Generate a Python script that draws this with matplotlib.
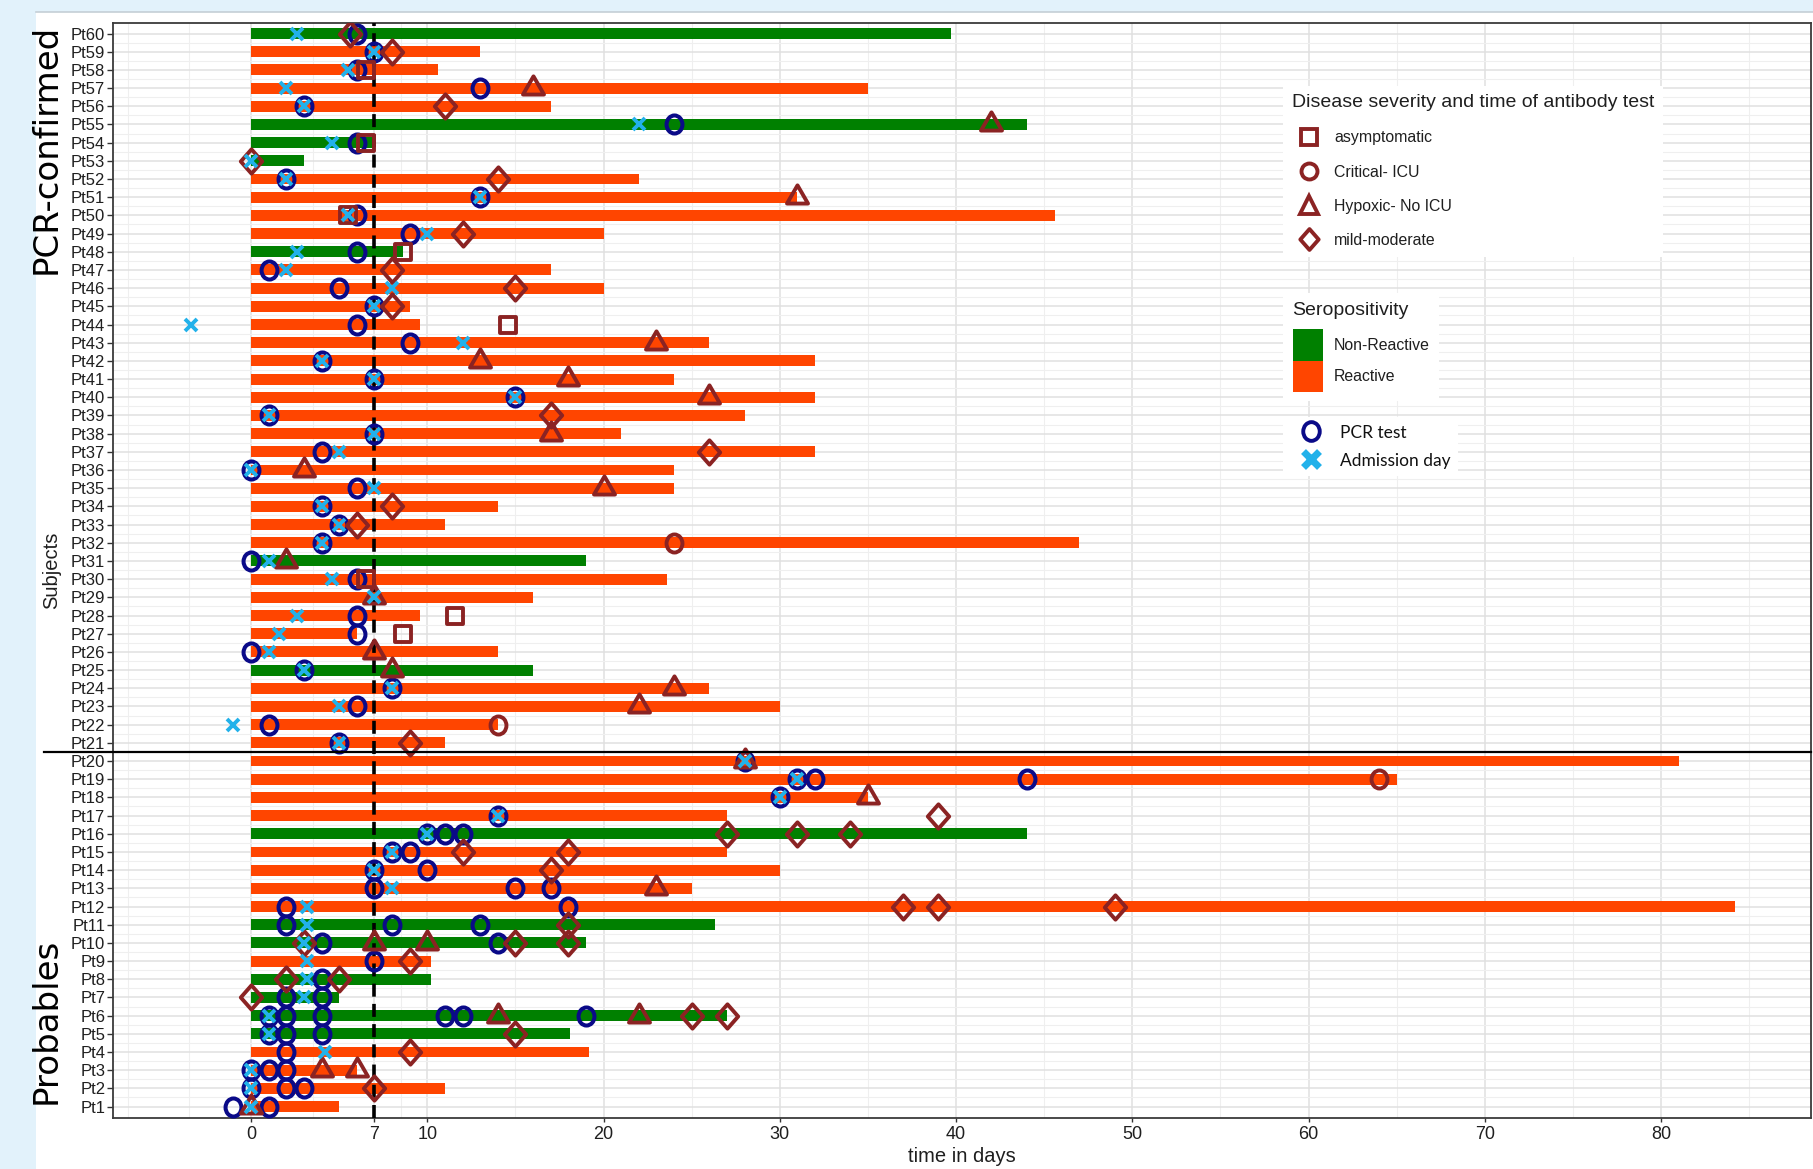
import matplotlib
matplotlib.use("Agg")
import matplotlib.pyplot as plt
from matplotlib.path import Path
from matplotlib.transforms import Affine2D, blended_transform_factory
from matplotlib.lines import Line2D
from matplotlib.patches import Patch, Rectangle

plt.rcParams["font.family"] = ["Liberation Sans", "DejaVu Sans"]

# ---------------------------------------------------------------- data
subjects = ["Pt1", "Pt2", "Pt3", "Pt4", "Pt5", "Pt6", "Pt7", "Pt8", "Pt9", "Pt10",
            "Pt11", "Pt12", "Pt13", "Pt14", "Pt15", "Pt16", "Pt17", "Pt18", "Pt19", "Pt20",
            "Pt21", "Pt22", "Pt23", "Pt24", "Pt25", "Pt26", "Pt27", "Pt28", "Pt29", "Pt30",
            "Pt31", "Pt32", "Pt33", "Pt34", "Pt35", "Pt36", "Pt37", "Pt38", "Pt39", "Pt40",
            "Pt41", "Pt42", "Pt43", "Pt44", "Pt45", "Pt46", "Pt47", "Pt48", "Pt49", "Pt50",
            "Pt51", "Pt52", "Pt53", "Pt54", "Pt55", "Pt56", "Pt57", "Pt58", "Pt59", "Pt60"]

n_probable = 20          # Pt1..Pt20 are probables, Pt21..Pt60 PCR-confirmed
reference_day = 7

# follow-up length (days), Pt1 ... Pt60
end_day = [5, 11, 6, 19.2, 18.1, 27, 5, 10.2, 10.2, 19,
           26.3, 84.2, 25, 30, 27, 44, 27, 35, 65, 81,
           11, 14, 30, 26, 16, 14, 6, 9.6, 16, 23.6,
           19, 47, 11, 14, 24, 24, 32, 21, 28, 32,
           24, 32, 26, 9.6, 9, 20, 17, 8.6, 20, 45.6,
           31, 22, 3, 7, 44, 17, 35, 10.6, 13, 39.7]

# N = Non-Reactive, R = Reactive
seropositivity = ["R", "R", "R", "R", "N", "N", "N", "N", "R", "N",
                  "N", "R", "R", "R", "R", "N", "R", "R", "R", "R",
                  "R", "R", "R", "R", "N", "R", "R", "R", "R", "R",
                  "N", "R", "R", "R", "R", "R", "R", "R", "R", "R",
                  "R", "R", "R", "R", "R", "R", "R", "N", "R", "R",
                  "R", "R", "N", "N", "N", "R", "R", "R", "R", "N"]

admission_day = [0, 0, 0, 4.2, 1, 1, 3, 3.2, 3.2, 3,
                 3.2, 3.2, 8, 7, 8, 10, 14, 30, 31, 28,
                 5, -1, 5, 8, 3, 1, 1.6, 2.6, 7, 4.6,
                 1, 4, 5, 4, 7, 0, 5, 7, 1, 15,
                 7, 4, 12, -3.4, 7, 8, 2, 2.6, 10, 5.5,
                 13, 2, 0, 4.6, 22, 3, 2, 5.5, 7, 2.6]

pcr_days = [[-1, 1], [0, 2, 3], [0, 1, 2], [2], [1, 2, 4],
            [1, 2, 4, 11, 12, 19], [2, 4], [4], [7], [4, 14],
            [2, 8, 13], [2, 18], [7, 15, 17], [7, 10], [8, 9],
            [10, 11, 12], [14], [30], [31, 32, 44], [28],
            [5], [1], [6], [8], [3], [0], [6], [6], [], [6],
            [0], [4], [5], [4], [6], [0], [4], [7], [1], [15],
            [7], [4], [9], [6], [7], [5], [1], [6], [9], [6],
            [13], [2], [], [6], [24], [3], [13], [6], [7], [6]]

# antibody test days and disease severity at each test
# A = asymptomatic, C = Critical- ICU, H = Hypoxic- No ICU, M = mild-moderate
ab_days = [[0], [7], [4, 6], [9], [15], [14, 22, 25, 27], [0], [2, 5], [9], [3, 7, 10, 15, 18],
           [18], [37, 39, 49], [23], [17], [12, 18], [27, 31, 34], [39], [35], [64], [28],
           [9], [14], [22], [24], [8], [7], [8.6], [11.6], [7], [6.5],
           [2], [24], [6], [8], [20], [3], [26], [17], [17], [26],
           [18], [13], [23], [14.6], [8], [15], [8], [8.6], [12], [5.5],
           [31], [14], [0], [6.5], [42], [11], [16], [6.5], [8], [5.6]]
ab_severity = [["H"], ["M"], ["H", "H"], ["M"], ["M"], ["H", "H", "M", "M"], ["M"], ["M", "M"], ["M"],
               ["M", "H", "H", "M", "M"],
               ["M"], ["M", "M", "M"], ["H"], ["M"], ["M", "M"], ["M", "M", "M"], ["M"], ["H"], ["C"], ["H"],
               ["M"], ["C"], ["H"], ["H"], ["H"], ["H"], ["A"], ["A"], ["H"], ["A"],
               ["H"], ["C"], ["M"], ["M"], ["H"], ["H"], ["M"], ["H"], ["M"], ["H"],
               ["H"], ["H"], ["H"], ["A"], ["M"], ["M"], ["M"], ["A"], ["M"], ["A"],
               ["H"], ["M"], ["M"], ["A"], ["H"], ["M"], ["H"], ["A"], ["M"], ["M"]]

severity_labels = {"A": "asymptomatic", "C": "Critical- ICU",
                   "H": "Hypoxic- No ICU", "M": "mild-moderate"}
sero_labels = {"N": "Non-Reactive", "R": "Reactive"}

x_breaks = [0, 7, 10, 20, 30, 40, 50, 60, 70, 80]
x_minor = [-7, -3.5, 3.5, 8.5, 15, 25, 35, 45, 55, 65, 75, 85]

# ---------------------------------------------------------------- style
GREEN = "#008000"
ORANGE = "#ff4500"
NAVY = "#0a0a88"
SKY = "#22b1ea"
SEV = "#8b2323"
bar_color = {"N": GREEN, "R": ORANGE}

C = Path.CLOSEPOLY
M, L = Path.MOVETO, Path.LINETO
ellipse = Path.unit_circle().transformed(Affine2D().scale(0.88, 1.0))
diamond = Path([(0, 1), (0.88, 0), (0, -1), (-0.88, 0), (0, 1)], [M, L, L, L, C])
triangle = Path([(0, 1.155), (1, -0.577), (-1, -0.577), (0, 1.155)], [M, L, L, C])
square = Path([(-1, -1), (1, -1), (1, 1), (-1, 1), (-1, -1)], [M, L, L, L, C])
sev_marker = {"A": (square, 11.8), "C": (ellipse, 13), "H": (triangle, 17.5), "M": (diamond, 17.5)}

W, H = 1813, 1169


def fx(px):
    return px / W


def fy(py):
    return 1 - py / H


fig = plt.figure(figsize=(W / 100, H / 100), dpi=100, facecolor="#e2f2fb")
fig.add_artist(Rectangle((fx(36), 0), 1 - fx(36), fy(12), transform=fig.transFigure,
                         facecolor="white", edgecolor="none", zorder=-10))
fig.add_artist(Line2D([fx(36), 1], [fy(12), fy(12)], transform=fig.transFigure,
                      color="#c5cfd6", lw=1.2, zorder=-9))

ax = fig.add_axes([fx(113), fy(1117.5), fx(1811) - fx(113), fy(22.6) - fy(1117.5)])
ax.set_facecolor("white")

ypos = list(range(1, len(subjects) + 1))

# bars: follow-up coloured by seropositivity
ax.barh(ypos, end_day, height=0.6, left=0,
        color=[bar_color[s] for s in seropositivity], zorder=2)

ax.axvline(reference_day, color="black", lw=2.6, dashes=(3.6, 2.0), zorder=3)

# PCR tests
px_, py_ = [], []
for y, days in zip(ypos, pcr_days):
    for d in days:
        px_.append(d)
        py_.append(y)
ax.plot(px_, py_, ls="none", marker=ellipse, ms=13, mfc="none", mec=NAVY, mew=2.9, zorder=4)

# antibody tests by severity
for code, (mk, ms) in sev_marker.items():
    sx, sy = [], []
    for y, days, sev in zip(ypos, ab_days, ab_severity):
        for d, s in zip(days, sev):
            if s == code:
                sx.append(d)
                sy.append(y)
    ax.plot(sx, sy, ls="none", marker=mk, ms=ms, mfc="none", mec=SEV, mew=2.8, zorder=5)

# admission day
ax.plot(admission_day, ypos, ls="none", marker="x", ms=8, mec=SKY, mew=2.8, zorder=6)

# separator between probable and PCR-confirmed subjects
trans = blended_transform_factory(fig.transFigure, ax.transData)
ax.plot([fx(44), fx(1811)], [n_probable + 0.5, n_probable + 0.5], transform=trans,
        color="black", lw=1.6, clip_on=False, zorder=7)

# axes
ax.set_xlim(-7.83, 88.5)
ax.set_ylim(0.4, len(subjects) + 0.6)
ax.set_xticks(x_breaks)
ax.set_xticks(x_minor, minor=True)
ax.set_yticks(ypos)
ax.set_yticklabels(subjects)
ax.set_yticks([y + 0.5 for y in ypos[:-1]], minor=True)
ax.set_axisbelow(True)
ax.grid(which="major", color="#e0e0e0", lw=1.1)
ax.grid(which="minor", color="#efefef", lw=0.8)
ax.tick_params(which="minor", length=0)
ax.tick_params(axis="y", which="major", length=4, width=1, color="#333333",
               labelsize=12, labelcolor="#1f1f1f", pad=1.5)
ax.tick_params(axis="x", which="major", length=3, width=1, color="#333333",
               labelsize=13, labelcolor="#1f1f1f", pad=3)
for sp in ax.spines.values():
    sp.set_color("#3a3a3a")
    sp.set_linewidth(1.3)

ax.set_xlabel("time in days", fontsize=14.5, color="#1f1f1f")
ax.xaxis.set_label_coords(0.5, -(1156 - 1117.5) / (1117.5 - 22.6))
ax.xaxis.label.set_verticalalignment("center")
ax.set_ylabel("Subjects", fontsize=14.5, color="#1f1f1f")
ax.yaxis.set_label_coords((52 - 113) / (1811 - 113), 0.5)
ax.yaxis.label.set_verticalalignment("center")

fig.text(fx(46), fy(149), "PCR-confirmed", rotation=90, ha="center", va="center",
         fontsize=24.5, family=["DejaVu Sans"], color="black")
fig.text(fx(46), fy(1021), "Probables", rotation=90, ha="center", va="center",
         fontsize=24.5, family=["DejaVu Sans"], color="black")

# legends
legend_shape = {"A": ("s", 11), "C": ("o", 11.5), "H": ("^", 12.5), "M": (diamond, 15)}
sev_handles = [Line2D([], [], ls="none", marker=legend_shape[k][0], ms=legend_shape[k][1],
                      mfc="none", mec=SEV, mew=2.8, label=severity_labels[k])
               for k in ["A", "C", "H", "M"]]
leg1 = ax.legend(handles=sev_handles, title="Disease severity and time of antibody test",
                 loc="upper left", bbox_to_anchor=(fx(1283), fy(85.5)),
                 bbox_transform=fig.transFigure, borderaxespad=0, frameon=True,
                 fancybox=False, framealpha=1, facecolor="white", edgecolor="none",
                 fontsize=11.4, title_fontsize=14, alignment="left", borderpad=0.55,
                 labelspacing=1.21, handlelength=2.2, handletextpad=0.49)
for t in leg1.get_texts():
    t.set_color("#1f1f1f")
leg1.get_title().set_color("#1f1f1f")
leg1.set_zorder(10)
ax.add_artist(leg1)

sero_handles = [Patch(facecolor=bar_color[k], edgecolor="none", label=sero_labels[k])
                for k in ["N", "R"]]
leg2 = ax.legend(handles=sero_handles, title="Seropositivity",
                 loc="upper left", bbox_to_anchor=(fx(1283), fy(292.5)),
                 bbox_transform=fig.transFigure, borderaxespad=0, frameon=True,
                 fancybox=False, framealpha=1, facecolor="white", edgecolor="none",
                 fontsize=11.4, title_fontsize=14, alignment="left", borderpad=0.6,
                 labelspacing=0, handlelength=1.9, handleheight=2.66, handletextpad=0.7)
leg2._legend_box.sep = 7.5
for t in leg2.get_texts():
    t.set_color("#1f1f1f")
leg2.get_title().set_color("#1f1f1f")
leg2.set_zorder(10)
ax.add_artist(leg2)

obs_handles = [Line2D([], [], ls="none", marker=ellipse, ms=13.5, mfc="none", mec=NAVY,
                      mew=2.8, label="PCR test"),
               Line2D([], [], ls="none", marker="x", ms=11, mec=SKY, mew=5,
                      label="Admission day")]
leg3 = ax.legend(handles=obs_handles, loc="upper left", bbox_to_anchor=(fx(1283), fy(417)),
                 bbox_transform=fig.transFigure, borderaxespad=0, frameon=True,
                 fancybox=False, framealpha=1, facecolor="white", edgecolor="none",
                 prop={"family": ["Lato", "DejaVu Sans"], "size": 12.5}, borderpad=0.4,
                 labelspacing=0.65, handlelength=2.45, handleheight=1.0, handletextpad=0.45)
for t in leg3.get_texts():
    t.set_color("#111111")
leg3.set_zorder(10)

fig.savefig("out.png", dpi=100, facecolor=fig.get_facecolor())
